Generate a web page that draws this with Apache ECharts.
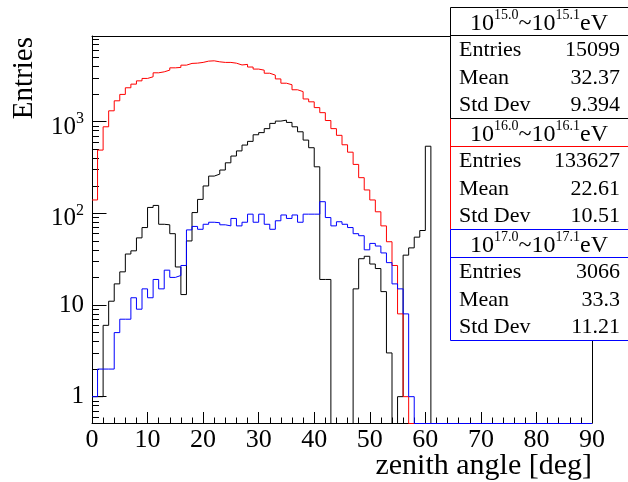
<!DOCTYPE html>
<html><head><meta charset="utf-8">
<script src="https://cdn.jsdelivr.net/npm/echarts@6/dist/echarts.min.js"></script>
<style>html,body{margin:0;padding:0;background:#fff}#c{width:628px;height:482px}</style>
</head><body><div id="c"></div>
<script>
// ---- data (1-degree bins, 0..90 deg) ----
const xMinDeg = 0, xMaxDeg = 90;
const xTickStep = 10;
const yMin = 0.516, yMax = 8610;
const yMajorTicks = [1, 10, 100, 1000];
const yMinorTicks = [0.6,0.7,0.8,0.9,2,3,4,5,6,7,8,9,20,30,40,50,60,70,80,90,200,300,400,500,600,700,800,900,2000,3000,4000,5000,6000,7000,8000];

// 10^15.0 ~ 10^15.1 eV (black)
const counts15 = [1,1,6,11,17,23,36,39,54,70,
  116,122,76,75,60,26,13,50,102,142,
  199,255,268,297,356,422,480,556,610,720,
  760,840,958,1015,1040,982,880,776,630,520,
  322,19,19,0,0,0,0,15,32,34,
  28,25,14,3,0,1,35,42,55,65,
  540,0,0,0,0,0,0,0,0,0,
  0,0,0,0,0,0,0,0,0,0,
  0,0,0,0,0,0,0,0,0,0];
// 10^16.0 ~ 10^16.1 eV (red)
const counts16 = [140,490,880,1315,1690,1985,2345,2570,2790,2965,
  3090,3415,3500,3655,3870,3910,4140,4325,4355,4435,
  4580,4615,4500,4435,4435,4350,4160,4220,3950,3750,
  3650,3380,3222,2930,2630,2530,2230,2130,1770,1648,
  1425,1255,1030,840,710,560,465,342,245,180,
  140,104,73,49,27,8,1,0,0,0,
  0,0,0,0,0,0,0,0,0,0,
  0,0,0,0,0,0,0,0,0,0,
  0,0,0,0,0,0,0,0,0,0];
// 10^17.0 ~ 10^17.1 eV (blue)
const counts17 = [1,2,2,2,5,7,7,12,9,15,
  12,19,15,24,20,21,27,66,72,67,
  76,80,79,75,73,88,73,80,98,80,
  98,76,67,83,96,88,96,80,98,98,
  98,134,90,73,81,76,70,60,57,40,
  47,44,37,29,17,15,8,1,0,0,
  0,0,0,0,0,0,0,0,0,0,
  0,0,0,0,0,0,0,0,0,0,
  0,0,0,0,0,0,0,0,0,0];

const statRanges = [['15.0','15.1'],['16.0','16.1'],['17.0','17.1']];
const statLabels = ['Entries','Mean','Std Dev'];
const statEntries = ['15099','133627','3066'];
const statMeans = ['32.37','22.61','33.3'];
const statStdDevs = ['9.394','10.51','11.21'];

const xTitle = 'zenith angle [deg]';
const yTitle = 'Entries';

// ---- build ----
const FONT = '"Liberation Serif", "Times New Roman", serif';
const colors = ['#000000', '#ff0000', '#0000ff'];

const G = {left: 92, top: 36, width: 500, height: 387};
// empty bins are drawn along the frame bottom (half a pixel below the axis minimum, on the axis line)
const pxPerDecade = G.height / (Math.log10(yMax) - Math.log10(yMin));
const floorVal = yMin * Math.pow(10, -0.5 / pxPerDecade);

function histSteps(vals) {
  const pts = [];
  vals.forEach((v, i) => pts.push([xMinDeg + i, v > 0 ? v : floorVal]));
  const last = vals[vals.length - 1];
  pts.push([xMaxDeg, last > 0 ? last : floorVal]);
  pts.push([xMaxDeg, floorVal]);
  return pts;
}

const series = [counts15, counts16, counts17].map((c, i) => ({
  type: 'line', step: 'end', symbol: 'none', showSymbol: false, clip: false,
  data: histSteps(c), xAxisIndex: 0, yAxisIndex: 0,
  lineStyle: {color: colors[i], width: 1}, itemStyle: {color: colors[i]},
  animation: false, silent: true, z: 3 + i
}));

function yLabel(v) {
  const e = Math.round(Math.log10(v));
  if (e === 0) return '{b|1}';
  if (e === 1) return '{b|10}';
  return '{bb|10}{s|' + e + '}';
}

// stat boxes
const graphics = [];
const boxX = 450.5, boxW = 180, boxH = 111;
const boxTops = [7.5, 118.5, 229.5];
const drawOrder = [1, 0, 2];
drawOrder.forEach((k, ord) => {
  const T = boxTops[k];
  const z = 100 + ord * 10;
  graphics.push({type: 'rect', z: z, shape: {x: boxX, y: T, width: boxW, height: boxH},
    style: {fill: '#fff', stroke: colors[k], lineWidth: 1}});
  graphics.push({type: 'line', z: z + 1, shape: {x1: boxX, y1: T + 28, x2: boxX + boxW, y2: T + 28},
    style: {stroke: colors[k], lineWidth: 1}});
  graphics.push({type: 'text', z: z + 2, x: 539, y: T + 16,
    style: {text: '{n|10}{s|' + statRanges[k][0] + '}{n|~10}{s|' + statRanges[k][1] + '}{n|eV}',
      align: 'center', verticalAlign: 'middle',
      rich: {
        n: {fontFamily: FONT, fontSize: 24, fill: '#000'},
        s: {fontFamily: FONT, fontSize: 14, padding: [0, 0, 16, 0], fill: '#000'}
      }}});
  const vals = [statEntries[k], statMeans[k], statStdDevs[k]];
  [43, 71, 98].forEach((dy, r) => {
    graphics.push({type: 'text', z: z + 2, x: 459, y: T + dy,
      style: {text: statLabels[r], font: '22px ' + FONT, fill: '#000', align: 'left', verticalAlign: 'middle'}});
    graphics.push({type: 'text', z: z + 2, x: 620, y: T + dy,
      style: {text: vals[r], font: '22px ' + FONT, fill: '#000', align: 'right', verticalAlign: 'middle'}});
  });
});
graphics.push({type: 'text', x: 24, y: 37, rotation: Math.PI / 2,
  style: {text: yTitle, font: '29px ' + FONT, fill: '#000', align: 'right', verticalAlign: 'middle'}});
graphics.push({type: 'text', x: 592, y: 466,
  style: {text: xTitle, font: '30px ' + FONT, fill: '#000', align: 'right', verticalAlign: 'middle'}});

const chart = echarts.init(document.getElementById('c'), null, {renderer: 'canvas'});
chart.setOption({
  animation: false,
  backgroundColor: '#fff',
  grid: Object.assign({containLabel: false}, G),
  xAxis: [{
    type: 'value', min: xMinDeg, max: xMaxDeg, interval: xTickStep, position: 'bottom',
    axisLine: {show: true, lineStyle: {color: '#000', width: 1}},
    axisTick: {show: true, inside: true, length: 11, lineStyle: {color: '#000'}},
    minorTick: {show: true, splitNumber: 5, length: 5.5, lineStyle: {color: '#000'}},
    splitLine: {show: false},
    axisLabel: {show: true, margin: 4, fontFamily: FONT, fontSize: 26, color: '#000'}
  }, {
    type: 'value', min: xMinDeg, max: xMaxDeg, position: 'top',
    axisLine: {show: true, lineStyle: {color: '#000', width: 1}},
    axisTick: {show: false}, axisLabel: {show: false}, splitLine: {show: false}
  }],
  yAxis: [{
    type: 'log', logBase: 10, min: yMin, max: yMax, position: 'left',
    axisLine: {show: true, lineStyle: {color: '#000', width: 1}},
    axisTick: {show: true, inside: true, length: 14.5, customValues: yMajorTicks, lineStyle: {color: '#000'}},
    splitLine: {show: false},
    axisLabel: {show: true, margin: 8, customValues: yMajorTicks, formatter: yLabel,
      rich: {
        b: {fontFamily: FONT, fontSize: 25, color: '#000'},
        bb: {fontFamily: FONT, fontSize: 25, padding: [11, 0, 0, 0], color: '#000'},
        s: {fontFamily: FONT, fontSize: 16, padding: [0, 0, 6, 0], color: '#000'}
      }}
  }, {
    type: 'log', logBase: 10, min: yMin, max: yMax, position: 'left',
    axisLine: {show: false},
    axisTick: {show: true, inside: true, length: 7, customValues: yMinorTicks, lineStyle: {color: '#000'}},
    axisLabel: {show: false}, splitLine: {show: false}
  }, {
    type: 'log', logBase: 10, min: yMin, max: yMax, position: 'right',
    axisLine: {show: true, lineStyle: {color: '#000', width: 1}},
    axisTick: {show: false}, axisLabel: {show: false}, splitLine: {show: false}
  }],
  series: series,
  graphic: graphics
});
</script></body></html>
